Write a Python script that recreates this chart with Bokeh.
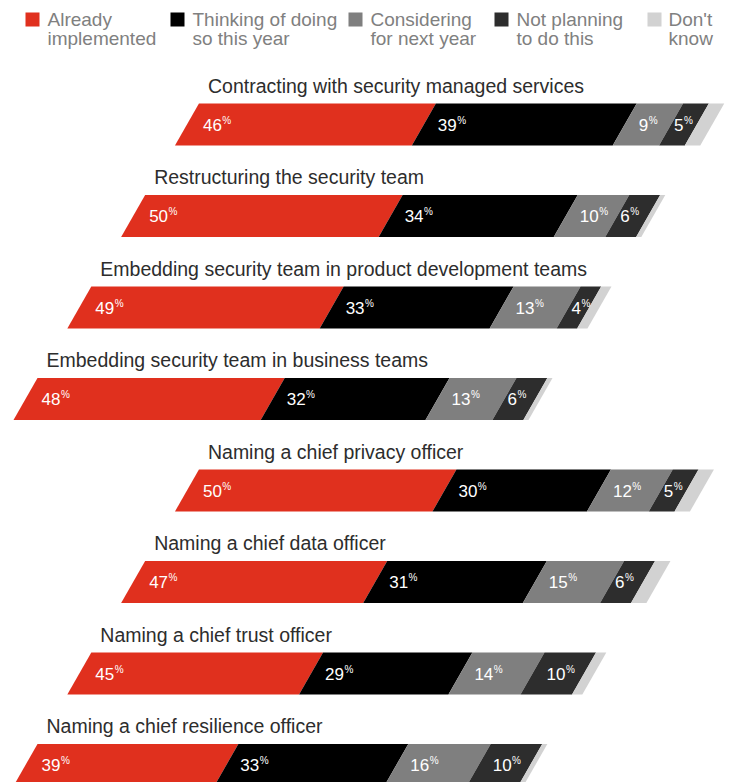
from bokeh.plotting import figure
from bokeh.models import Range1d, ColumnDataSource
from bokeh.core.properties import value
from bokeh.embed import file_html
from bokeh.resources import INLINE

# ---------------- data ----------------
categories = [
    "Contracting with security managed services",
    "Restructuring the security team",
    "Embedding security team in product development teams",
    "Embedding security team in business teams",
    "Naming a chief privacy officer",
    "Naming a chief data officer",
    "Naming a chief trust officer",
    "Naming a chief resilience officer",
]
already_implemented = [46, 50, 49, 48, 50, 47, 45, 39]
thinking_this_year = [39, 34, 33, 32, 30, 31, 29, 33]
considering_next_year = [9, 10, 13, 13, 12, 15, 14, 16]
not_planning = [5, 6, 4, 6, 5, 6, 10, 10]
dont_know = [3, 1, 2, 1, 3, 3, 2, 1]

series = [already_implemented, thinking_this_year, considering_next_year, not_planning, dont_know]
series_labels = ["Already\nimplemented", "Thinking of doing\nso this year",
                 "Considering\nfor next year", "Not planning\nto do this", "Don't\nknow"]
colors = ["#e0301e", "#000000", "#7f7f7f", "#2d2d2d", "#d2d2d2"]

# ---------------- layout constants ----------------
W, H = 730, 782
PX = 5.15          # pixels per percent
ROW_PX = 91.5      # pixels per row
X0_PX = 13         # pixel of x = 0
Y0_PX = 124        # pixel of first row centre
HALF = 21 / ROW_PX # half bar height (row units)
SL = 24 / PX       # slant (percent units)
STEP = 10.45       # stagger step (percent units)
FONT = value("Liberation Sans")
LAB_FS = 17


def px2x(px):
    return (px - X0_PX) / PX


def px2y(py):
    return (py - Y0_PX) / ROW_PX


p = figure(width=W, height=H, output_backend="svg", toolbar_location=None,
           x_range=Range1d(px2x(0), px2x(W)), y_range=Range1d(px2y(H), px2y(0)),
           min_border=0)
p.axis.visible = False
p.grid.visible = False
p.outline_line_color = None
p.background_fill_color = "white"
p.border_fill_color = "white"

# ---------------- bars ----------------
patch_x, patch_y, patch_c = [], [], []
lab_x, lab_y, lab_t, lab_off, pct_off = [], [], [], [], []
tit_x, tit_y = [], []
for i, cat in enumerate(categories):
    yc = i
    start = STEP * (3 - i % 4)
    tit_x.append(start)
    tit_y.append(yc)
    s = start
    for k, ser in enumerate(series):
        v = ser[i]
        e = s + v
        patch_x.append([s, e, e + SL, s + SL])
        patch_y.append([yc + HALF, yc + HALF, yc - HALF, yc - HALF])
        patch_c.append(colors[k])
        if k < 4:
            pad = 16 if k == 0 else (14 if v >= 9 else 3)
            off = 12 + pad
            t = str(v)
            lab_x.append(s)
            lab_y.append(yc)
            lab_t.append(t)
            lab_off.append(off)
            pct_off.append(off + len(t) * 0.556 * LAB_FS + 0.5)
        s = e

p.patches(xs="xs", ys="ys", fill_color="c", line_color=None,
          source=ColumnDataSource(dict(xs=patch_x, ys=patch_y, c=patch_c)))

lab_src = ColumnDataSource(dict(x=lab_x, y=lab_y, t=lab_t, o=lab_off, po=pct_off,
                                pt=["%"] * len(lab_t)))
p.text(x="x", y="y", text="t", x_offset="o", source=lab_src, text_font=FONT,
       text_font_size=f"{LAB_FS}px", text_color="white", text_baseline="middle", text_align="left")
p.text(x="x", y="y", text="pt", x_offset="po", y_offset=-4.5, source=lab_src, text_font=FONT,
       text_font_size="10px", text_color="white", text_baseline="middle", text_align="left")

p.text(x="x", y="y", text="t", x_offset=33, y_offset=-39,
       source=ColumnDataSource(dict(x=tit_x, y=tit_y, t=categories)),
       text_font=FONT, text_font_size="19.5px", text_color="#2d2d2d",
       text_baseline="middle", text_align="left")

# ---------------- legend ----------------
sq_left = [25, 170, 348, 494, 647]
txt_left = [47, 192, 370, 516, 668]
p.rect(x=[px2x(v + 7) for v in sq_left], y=[px2y(19)] * 5, width=14, height=14,
       width_units="screen", height_units="screen", fill_color=colors, line_color=None)
l1 = [lbl.split("\n")[0] for lbl in series_labels]
l2 = [lbl.split("\n")[1] for lbl in series_labels]
p.text(x=[px2x(v) for v in txt_left], y=[px2y(19)] * 5, text=l1, text_font=FONT,
       text_font_size="19px", text_color="#808080", text_baseline="middle")
p.text(x=[px2x(v) for v in txt_left], y=[px2y(38)] * 5, text=l2, text_font=FONT,
       text_font_size="19px", text_color="#808080", text_baseline="middle")

open("out.html", "w").write(file_html(p, INLINE))
